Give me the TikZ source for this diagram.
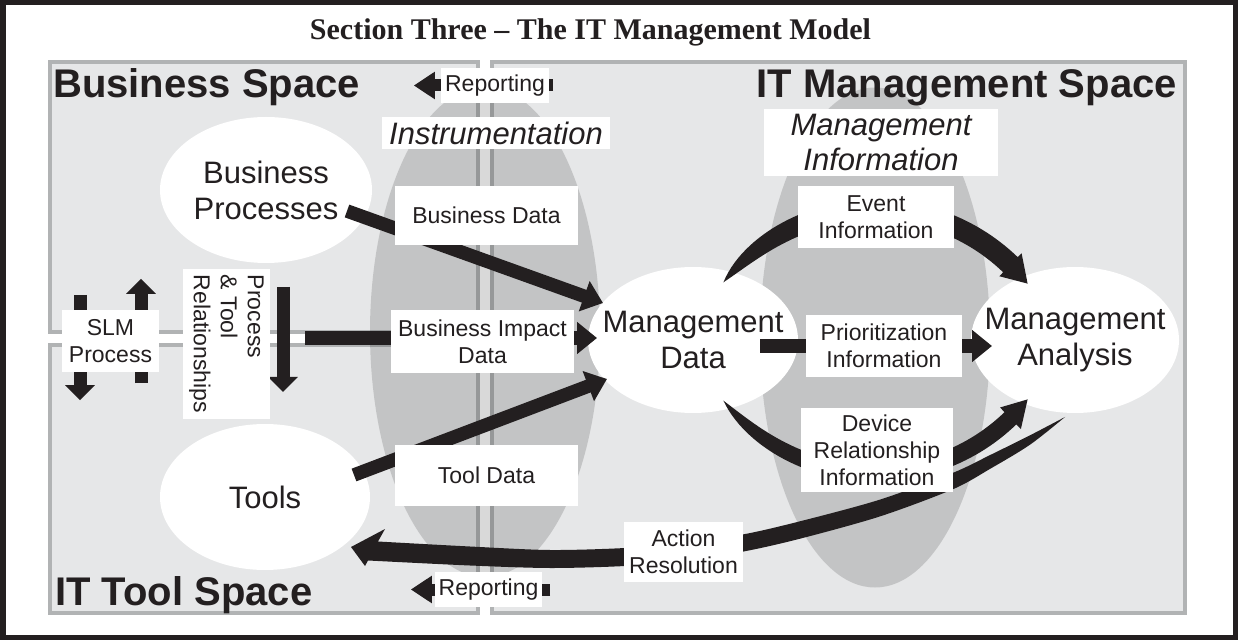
\documentclass[tikz,border=0pt]{standalone}
\usepackage{fontspec}
\setmainfont{Liberation Sans}
\newfontfamily\titlefont[Ligatures=TeX]{Liberation Serif}
\usetikzlibrary{arrows.meta,shapes.geometric}
\pgfdeclarelayer{bg}
\pgfdeclarelayer{arr}
\pgfsetlayers{bg,arr,main}
\definecolor{ink}{HTML}{231F20}
\definecolor{boxfill}{HTML}{E6E7E8}
\definecolor{boxline}{HTML}{B1B3B4}
\newcommand\lblfont{\fontsize{23}{27}\selectfont}
\newcommand\ellfont{\fontsize{31}{36}\selectfont}
\newcommand\mifont{\fontsize{31}{35}\selectfont\itshape}
\newcommand\spacefont{\fontsize{40}{44}\selectfont\bfseries}
\newcommand\ttlfont{\titlefont\fontsize{30}{36}\selectfont\bfseries}
\begin{document}
\begin{tikzpicture}[x=1pt,y=1pt,
  declare function={evw(\a)=21*(1-exp(-(141-\a)/10)); dvw(\a)=17*(1-exp(-(\a+141)/10));},
  spacebox/.style={draw=boxline, fill=boxfill, line width=3.5pt},
  grayell/.style={fill=black, fill opacity=0.15},
  whiteell/.style={ellipse, fill=white, inner xsep=-30pt, inner ysep=0pt, align=center, font=\ellfont, text=ink},
  lbl/.style={fill=white, inner sep=0pt, align=center, font=\lblfont, text=ink},
  blk/.style={draw=ink, line width=13.5pt, -{Triangle[length=20pt,width=31pt]}},
  smallarr/.style={draw=ink, line width=13pt, -{Triangle[length=15pt,width=29pt]}},
  reparr/.style={draw=ink, line width=12pt, -{Triangle[length=21pt,width=26pt]}},
  sptitle/.style={inner sep=0pt, font=\spacefont, text=ink}]

\useasboundingbox (0,0) rectangle (1238,640);

\begin{pgfonlayer}{bg}
  \fill[white] (0,0) rectangle (1238,640);
  \draw[ink, line width=5.5pt] (2.75,2.75) rectangle (1235.25,637.25);
  \path[spacebox] (50,308) rectangle (478,578);
  \path[spacebox] (50,27) rectangle (478,295);
  \path[spacebox] (492,27) rectangle (1185,578);
  \fill[grayell] (485,308) ellipse [x radius=115pt, y radius=245pt];
  \fill[grayell] (875,302.5) ellipse [x radius=115pt, y radius=250pt];
  \node[whiteell, minimum width=212pt, minimum height=146pt] (bp) at (266,450) {Business\\Processes};
  \node[whiteell, minimum width=210pt, minimum height=146pt] (tools) at (265,143) {Tools};
  \node[whiteell, minimum width=210pt, minimum height=146pt] (md) at (693,300) {Management\\Data};
  \node[whiteell, minimum width=208pt, minimum height=146pt] (ma) at (1075,300) {Management\\Analysis};
\end{pgfonlayer}

% labels
\node[lbl, minimum width=108pt, minimum height=35pt] (rep1) at (495,554.5) {Reporting};
\node[lbl, minimum width=107pt, minimum height=35pt] (rep2) at (488.5,50.5) {Reporting};
\node[lbl, font=\ellfont\itshape, minimum width=228pt, minimum height=32pt] (instr) at (496,507) {Instrumentation};
\node[lbl, minimum width=183pt, minimum height=59pt] (bd) at (486.5,424.5) {Business Data};
\node[lbl, minimum width=183pt, minimum height=63pt] (bid) at (482.5,298.5) {Business Impact\\Data};
\node[lbl, minimum width=183pt, minimum height=61pt] (td) at (486.5,164.5) {Tool Data};
\node[lbl, font=\mifont, minimum width=234pt, minimum height=67pt] (mi) at (881,497.5) {Management\\Information};
\node[lbl, minimum width=156pt, minimum height=62pt] (ei) at (876,423) {Event\\Information};
\node[lbl, minimum width=156pt, minimum height=62pt] (pi) at (884,294) {Prioritization\\Information};
\node[lbl, minimum width=152pt, minimum height=84pt] (dri) at (877,190) {Device\\Relationship\\Information};
\node[lbl, minimum width=119pt, minimum height=60pt] (ar) at (683.5,88) {Action\\Resolution};
\node[lbl, minimum width=97pt, minimum height=62pt] (slm) at (110.5,299) {SLM\\Process};
\node[lbl, rotate=-90, align=left, minimum width=150pt, minimum height=87pt] (ptr) at (226.5,296) {Process\\\& Tool\\Relationships};

% titles
\node[inner sep=0pt, anchor=base, font=\ttlfont, text=ink] (title) at (590.5,600) {Section Three \textendash\ The IT Management Model};
\node[sptitle, anchor=base west] (bst) at (53,542) {Business Space};
\node[sptitle, anchor=base east] (itmt) at (1177,542) {IT Management Space};
\node[sptitle, anchor=base west] (itst) at (55,35) {IT Tool Space};

\begin{pgfonlayer}{arr}
  \coordinate (bidS) at (305,302);
  \draw[blk] ([shift={(81,-21)}]bp.center) -- ([shift={(-90,37)}]md.center);
  \draw[blk] ([shift={(89,22)}]tools.center) -- ([shift={(-86,-39)}]md.center);
  \draw[blk] (bidS) -- ([shift={(-96,2)}]md.center);
  \draw[blk] ([shift={(67,-6)}]md.center) -- ([shift={(-83,-6)}]ma.center);
  \draw[reparr] ([xshift=4pt]rep1.east) -- ([xshift=-27pt]rep1.west);
  \draw[reparr] ([xshift=8pt]rep2.east) -- ([xshift=-24pt]rep2.west);
  \draw[smallarr] ([shift={(-30.5,15)}]slm.north) -- ([shift={(-30.5,-28)}]slm.south);
  \draw[smallarr] ([shift={(30.5,-11)}]slm.south) -- ([shift={(30.5,31)}]slm.north);
  \draw[smallarr] ([shift={(56.5,57)}]ptr.center) -- ([shift={(56.5,-48)}]ptr.center);
  % Event information arc
  \begin{scope}[shift={(875,235)}]
    \fill[ink] plot[domain=141:46, samples=60] ({(195+evw(\x)/2)*cos(\x)},{(195+evw(\x)/2)*sin(\x)})
      -- (46:211) -- (38.5:195) -- (46:179)
      -- plot[domain=46:141, samples=60] ({(195-evw(\x)/2)*cos(\x)},{(195-evw(\x)/2)*sin(\x)}) -- cycle;
  \end{scope}
  % Device relationship arc
  \begin{scope}[shift={(875,362)}]
    \fill[ink] plot[domain=-141:-46, samples=60] ({(195+dvw(\x)/2)*cos(\x)},{(195+dvw(\x)/2)*sin(\x)})
      -- (-46:210) -- (-38.5:195) -- (-46:180)
      -- plot[domain=-46:-141, samples=60] ({(195-dvw(\x)/2)*cos(\x)},{(195-dvw(\x)/2)*sin(\x)}) -- cycle;
  \end{scope}
  % Action resolution arc
  \fill[ink] plot[smooth] coordinates {(1065,223) (1030,204.7) (990,184.9) (953,167.2) (880,140.4) (800,118.7) (743,105.6) (680,97) (625,92) (550,90) (470,93.5) (378,98.5)}
    -- (385,111) -- (351,93) -- (365,74)
    -- plot[smooth] coordinates {(368,79.5) (470,74.5) (550,72) (625,74) (680,79) (743,88.4) (800,101.3) (880,123.6) (953,150.8) (990,171.1) (1030,195.3) (1065,223)} -- cycle;
\end{pgfonlayer}
\end{tikzpicture}
\end{document}
